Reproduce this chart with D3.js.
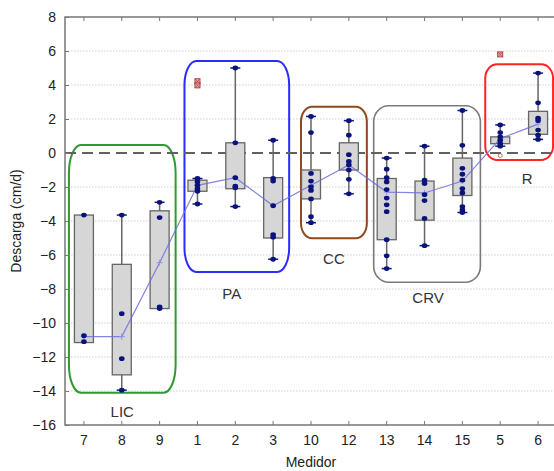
<!DOCTYPE html>
<html><head><meta charset="utf-8">
<script src="https://cdn.jsdelivr.net/npm/d3@7"></script>
<style>body{margin:0;background:#fff}svg{display:block}text{font-family:"Liberation Sans",Arial,sans-serif}</style>
</head><body><svg id="c" width="554" height="471"></svg>
<script>
const categories = ["7","8","9","1","2","3","10","12","13","14","15","5","6"];
const q3 = [-3.65,-6.55,-3.4,-1.6,0.6,-1.45,-1.0,0.6,-1.5,-1.65,-0.3,0.95,2.45];
const q1 = [-11.15,-13.05,-9.15,-2.25,-2.1,-5.0,-2.7,-1.0,-5.1,-3.95,-2.5,0.55,1.1];
const whiskHigh = [-3.65,-3.65,-2.9,-1.5,5.0,0.75,2.15,1.9,-0.3,0.4,2.5,1.65,4.7];
const whiskLow = [-11.15,-13.95,-9.15,-3.0,-3.15,-6.25,-4.1,-2.4,-6.8,-5.45,-3.5,0.4,0.8];
const medians = [-10.8,-10.8,-6.45,-1.9,-1.45,-3.1,-1.9,-0.7,-2.3,-2.35,-1.65,0.85,1.7];
const points = [
  [-3.65,-10.75,-11.1],
  [-3.65,-9.45,-12.1,-13.95],
  [-2.9,-3.8,-9.05,-9.15],
  [-1.5,-1.7,-1.9,-2.1,-2.25,-3.0],
  [5.0,0.6,-1.45,-1.95,-2.05,-3.15],
  [0.75,-1.5,-1.65,-3.1,-4.8,-4.95,-6.25],
  [2.15,1.2,-1.2,-1.65,-2.0,-2.2,-2.7,-3.75,-4.1],
  [1.9,1.05,-0.1,-0.5,-0.7,-1.0,-1.55,-2.4],
  [-0.3,-0.95,-1.45,-1.7,-2.15,-2.65,-3.05,-3.45,-5.1,-6.05,-6.8],
  [0.4,-1.6,-1.8,-2.45,-2.8,-3.85,-5.45],
  [2.5,0.45,-0.9,-1.25,-1.6,-2.1,-2.35,-3.15,-3.35,-3.5],
  [1.65,1.2,0.95,0.75,0.55,0.4],
  [4.7,2.95,2.05,1.9,1.35,1.05,0.8]
];
const extremeCats = ["1","1","5"];
const extremeVals = [4.22,3.98,5.8];
const outlierCats = ["5"];
const outlierVals = [-0.15];
const yTicks = [8,6,4,2,0,-2,-4,-6,-8,-10,-12,-14,-16];
const groupNames = ["LIC","PA","CC","CRV","R"];
const groupFirst = ["7","1","10","13","5"];
const groupLast = ["9","3","12","15","6"];
const groupHigh = [0.47,5.41,2.72,2.78,5.22];
const groupLow = [-14.1,-7.0,-5.02,-7.6,-0.41];
const groupLabelY = [-15.3,-8.35,-6.3,-8.6,-1.6];
const groupColors = ["#2f9a2f","#2b2bff","#8e4a1c","#7a7a7a","#ff2424"];
const groupPadL = [15,13,10,13,15];
const groupPadR = [16,16,18,18,15];
const groupLabelDx = [0,-5,0,1,8];
const groupRx = [12,12,11,15,12];
const groupRy = [28,24,15,16,14];

const svg = d3.select("#c");
const L = 65, R = 557, T = 17, B = 425;
const x = d3.scaleBand().domain(categories).range([L, R]);
const y = d3.scaleLinear().domain([-16, 8]).range([B, T]);
const cx = c => x(c) + x.bandwidth() / 2;
const bw = 19;

svg.append("g").selectAll("line").data(yTicks.filter(v => v !== 8 && v !== -16 && v !== 0)).join("line")
  .attr("x1", L).attr("x2", R).attr("y1", d => y(d)).attr("y2", d => y(d))
  .attr("stroke", "#cfcfcf").attr("stroke-width", 1).attr("stroke-dasharray", "1.5,1.5");

const gg = svg.append("g");
groupNames.forEach((n, i) => {
  const x0 = cx(groupFirst[i]) - groupPadL[i], x1 = cx(groupLast[i]) + groupPadR[i];
  gg.append("rect").attr("x", x0).attr("y", y(groupHigh[i]))
    .attr("width", x1 - x0).attr("height", y(groupLow[i]) - y(groupHigh[i]))
    .attr("rx", groupRx[i]).attr("ry", groupRy[i])
    .attr("fill", "none").attr("stroke", groupColors[i]).attr("stroke-width", n === "CRV" ? 1.6 : 2);
  gg.append("text").attr("x", (x0 + x1) / 2 + groupLabelDx[i]).attr("y", y(groupLabelY[i]))
    .attr("text-anchor", "middle").attr("dominant-baseline", "middle")
    .attr("font-size", 15).attr("fill", "#333").text(n);
});

svg.append("line").attr("x1", L).attr("x2", R).attr("y1", y(0)).attr("y2", y(0))
  .attr("stroke", "#606060").attr("stroke-width", 2).attr("stroke-dasharray", "11,6");

const bg = svg.append("g");
categories.forEach((c, i) => {
  const X = cx(c);
  bg.append("line").attr("x1", X).attr("x2", X).attr("y1", y(whiskHigh[i])).attr("y2", y(whiskLow[i]))
    .attr("stroke", "#666").attr("stroke-width", 1.5);
  bg.append("rect").attr("x", X - bw / 2).attr("y", y(q3[i])).attr("width", bw)
    .attr("height", y(q1[i]) - y(q3[i])).attr("fill", "#d6d6d6").attr("stroke", "#666").attr("stroke-width", 1.3);
  [whiskHigh[i], whiskLow[i]].forEach((w, k) => {
    const beyond = k === 0 ? w > q3[i] + 0.01 : w < q1[i] - 0.01;
    if (beyond) bg.append("line").attr("x1", X - 5).attr("x2", X + 5).attr("y1", y(w)).attr("y2", y(w))
      .attr("stroke", "#0a1a8a").attr("stroke-width", 1.5);
  });
});

const med = categories.map((c, i) => [cx(c), y(medians[i])]);
svg.append("path").attr("d", d3.line()(med)).attr("fill", "none")
  .attr("stroke", "#7070dd").attr("stroke-opacity", 0.85).attr("stroke-width", 1.2);
svg.append("g").selectAll("path").data(med).join("path")
  .attr("d", d => `M${d[0]-3},${d[1]}H${d[0]+3}M${d[0]},${d[1]-3}V${d[1]+3}`)
  .attr("stroke", "#9090e8").attr("stroke-width", 1);

const pg = svg.append("g");
categories.forEach((c, i) => {
  pg.selectAll(null).data(points[i]).join("ellipse")
    .attr("cx", cx(c)).attr("cy", d => y(d)).attr("rx", 2.8).attr("ry", 2.4).attr("fill", "#0a137a");
});

extremeCats.forEach((c, i) => {
  const X = cx(c), Y = y(extremeVals[i]);
  svg.append("rect").attr("x", X - 2.5).attr("y", Y - 2.5).attr("width", 5).attr("height", 5)
    .attr("fill", "#e8b0b0").attr("stroke", "#b04040").attr("stroke-width", 1);
  svg.append("path").attr("d", `M${X-2.5},${Y-2.5}L${X+2.5},${Y+2.5}M${X+2.5},${Y-2.5}L${X-2.5},${Y+2.5}`)
    .attr("stroke", "#b04040").attr("stroke-width", 0.8);
});
outlierCats.forEach((c, i) => {
  svg.append("circle").attr("cx", cx(c)).attr("cy", y(outlierVals[i])).attr("r", 2)
    .attr("fill", "none").attr("stroke", "#d04040").attr("stroke-width", 0.8);
});

svg.append("path").attr("d", `M${R},${T}H${L}V${B}H${R}`).attr("fill", "none")
  .attr("stroke", "#777").attr("stroke-width", 1.5);

const ya = svg.append("g").attr("transform", `translate(${L},0)`)
  .call(d3.axisLeft(y).tickValues(yTicks).tickSize(-4).tickPadding(9).tickFormat(d3.format("d")));
ya.select(".domain").remove();
ya.selectAll("line").attr("stroke", "#777");
ya.selectAll("text").attr("font-size", 14).attr("fill", "#222").attr("font-family", '"Liberation Sans",Arial,sans-serif');

const xa = svg.append("g").attr("transform", `translate(0,${B})`)
  .call(d3.axisBottom(x).tickSize(-4).tickPadding(10));
xa.select(".domain").remove();
xa.selectAll("line").attr("stroke", "#777");
xa.selectAll("text").attr("font-size", 14).attr("fill", "#222").attr("font-family", '"Liberation Sans",Arial,sans-serif');

const ta = svg.append("g").attr("transform", `translate(0,${T})`)
  .call(d3.axisTop(x).tickSize(-4).tickFormat(""));
ta.select(".domain").remove();
ta.selectAll("line").attr("stroke", "#777");

svg.append("text").attr("x", (L + R) / 2).attr("y", 463).attr("text-anchor", "middle")
  .attr("dominant-baseline", "middle").attr("font-size", 14).attr("fill", "#222").text("Medidor");
svg.append("text").attr("transform", `translate(17,${(T + B) / 2}) rotate(-90)`).attr("text-anchor", "middle")
  .attr("dominant-baseline", "middle").attr("font-size", 14).attr("fill", "#222").text("Descarga (cm/d)");
</script></body></html>
